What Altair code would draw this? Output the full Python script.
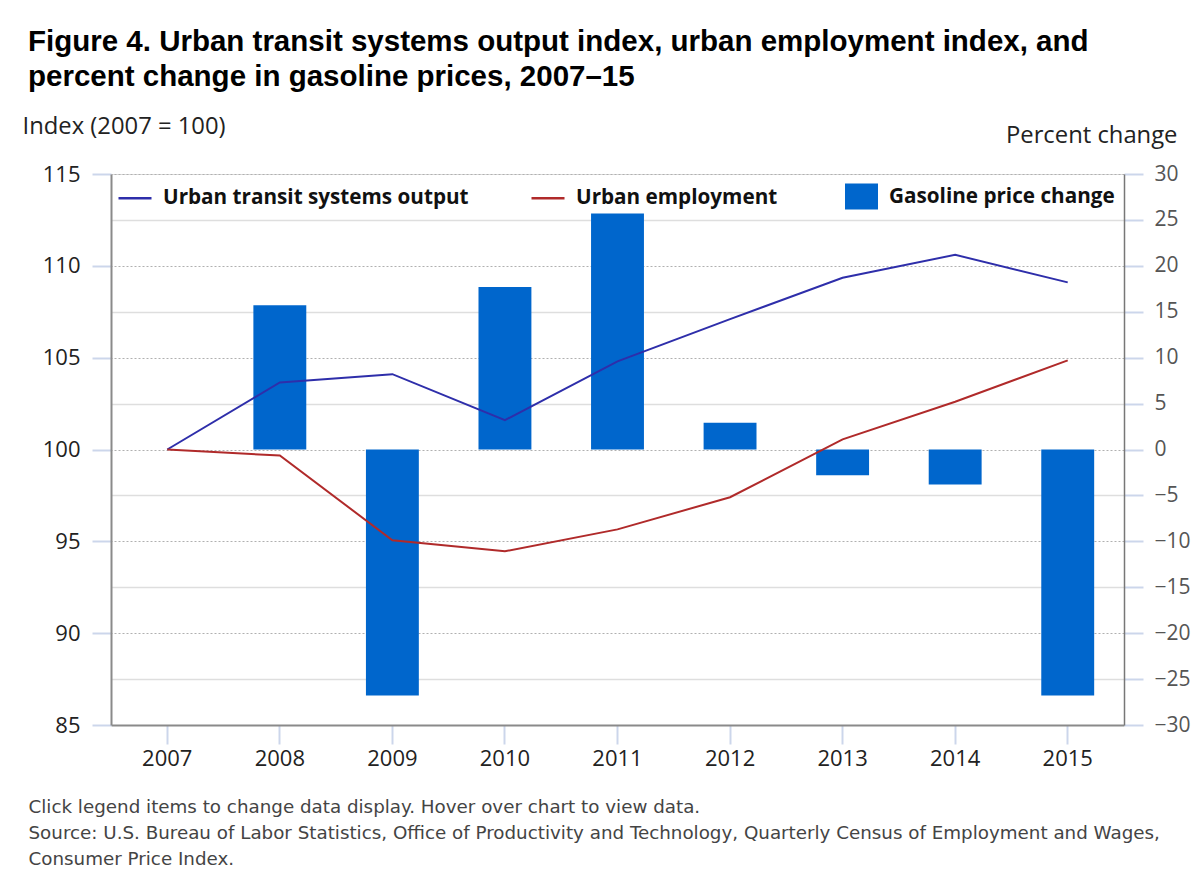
import altair as alt
import pandas as pd

years = ["2007", "2008", "2009", "2010", "2011", "2012", "2013", "2014", "2015"]
transit_index = [100.0, 103.65, 104.1, 101.6, 104.8, 107.1, 109.35, 110.6, 109.1]
employment_index = [100.0, 99.67, 95.06, 94.46, 95.65, 97.4, 100.55, 102.6, 104.85]
gas_years = ["2008", "2009", "2010", "2011", "2012", "2013", "2014", "2015"]
gas_change = [15.7, -26.8, 17.7, 25.7, 2.9, -2.8, -3.8, -26.8]

series_names = ["Urban transit systems output", "Urban employment"]
bar_name = "Gasoline price change"
line_colors = ["#2e2eaa", "#b02a2a"]
bar_color = "#0066cc"
left_ticks = [85, 90, 95, 100, 105, 110, 115]
right_ticks = [-30, -25, -20, -15, -10, -5, 0, 5, 10, 15, 20, 25, 30]

title_lines = [
    "Figure 4. Urban transit systems output index, urban employment index, and",
    "percent change in gasoline prices, 2007\u201315",
]
footer_lines = [
    "Click legend items to change data display. Hover over chart to view data.",
    "Source: U.S. Bureau of Labor Statistics, Office of Productivity and Technology, Quarterly Census of Employment and Wages,",
    "Consumer Price Index.",
]

lines_df = pd.DataFrame({
    "year": years * 2,
    "series": [series_names[0]] * len(years) + [series_names[1]] * len(years),
    "value": transit_index + employment_index,
})
bars_df = pd.DataFrame({
    "year": gas_years,
    "series": [bar_name] * len(gas_years),
    "change": gas_change,
})

FONT = "Open Sans"

x_enc = alt.X(
    "year:O",
    scale=alt.Scale(type="band", domain=years, paddingInner=0, paddingOuter=0),
    axis=alt.Axis(
        title=footer_lines,
        titleFont="DejaVu Sans", titleFontSize=18.3, titleFontWeight="normal",
        titleColor="#444444", titleAlign="left", titleAnchor="start",
        titleX=-83, titleY=82, titleBaseline="middle", titleLineHeight=26,
        titleLimit=1200,
        labelAngle=0, labelFont=FONT, labelFontSize=22, labelColor="#222222",
        labelPadding=4,
        tickSize=19, tickColor="#ccd6eb", tickWidth=2,
        domainColor="#8a8a8a", domainWidth=2, grid=False,
    ),
)

bars = alt.Chart(bars_df).mark_bar(width=alt.RelativeBandSize(0.47)).encode(
    x=x_enc,
    y=alt.Y(
        "change:Q",
        scale=alt.Scale(domain=[-30, 30], nice=False),
        axis=alt.Axis(
            orient="right", values=right_ticks,
            title="Percent change", titleFont=FONT, titleFontSize=23.8,
            titleFontWeight="normal", titleColor="#222222", titleAngle=0,
            titleAlign="right", titleBaseline="middle", titleX=53, titleY=-39,
            labelFont=FONT, labelFontSize=21, labelColor="#555555",
            labelPadding=11, labelAlign="left",
            tickSize=19, tickColor="#ccd6eb", tickWidth=2,
            domainColor="#777777", domainWidth=1.5,
            grid=True,
            gridDash={"condition": {"test": "datum.value % 10 === 0", "value": [2, 2]}, "value": []},
            gridColor={"condition": {"test": "datum.value % 10 === 0", "value": "#b0b0b0"}, "value": "#dedede"},
            gridWidth={"condition": {"test": "datum.value % 10 === 0", "value": 1}, "value": 1.5},
        ),
    ),
    fill=alt.Fill(
        "series:N",
        scale=alt.Scale(domain=[bar_name], range=[bar_color]),
        legend=alt.Legend(
            orient="none", legendX=734, legendY=6, direction="horizontal", title=None,
            symbolType="M-1,-0.79H1V0.79H-1Z", symbolSize=1089, symbolStrokeWidth=0,
            symbolOpacity=1,
            labelFont=FONT, labelFontSize=20.7, labelFontWeight="bold", labelColor="#111111",
            labelOffset=11, labelLimit=500, padding=0,
        ),
    ),
)

lines = alt.Chart(lines_df).mark_line(strokeWidth=2).encode(
    x=x_enc,
    y=alt.Y(
        "value:Q",
        scale=alt.Scale(domain=[85, 115], nice=False, zero=False),
        axis=alt.Axis(
            orient="left", values=left_ticks,
            title="Index (2007 = 100)", titleFont=FONT, titleFontSize=23.8,
            titleFontWeight="normal", titleColor="#222222", titleAngle=0,
            titleAlign="left", titleBaseline="middle", titleX=-89, titleY=-48,
            labelFont=FONT, labelFontSize=22, labelColor="#222222",
            labelPadding=12,
            tickSize=19, tickColor="#ccd6eb", tickWidth=2,
            domainColor="#8a8a8a", domainWidth=2,
            grid=False,
        ),
    ),
    color=alt.Color(
        "series:N",
        scale=alt.Scale(domain=series_names, range=line_colors),
        sort=series_names,
        legend=alt.Legend(
            orient="none", legendX=6, legendY=6, direction="horizontal", title=None,
            symbolType="stroke", symbolSize=1089, symbolStrokeWidth=2.5,
            labelFont=FONT, labelFontSize=20.7, labelFontWeight="bold", labelColor="#111111",
            labelOffset=10, labelLimit=500, columnPadding=57, padding=0,
        ),
    ),
)

chart = alt.layer(bars, lines).resolve_scale(
    y="independent", color="independent", fill="independent"
).properties(
    width=1013,
    height=551,
    autosize=alt.AutoSizeParams(type="none"),
    padding={"left": 103, "top": 166, "right": 67, "bottom": 155},
    title=alt.TitleParams(
        text=title_lines, font="Liberation Sans", fontSize=29.5, fontWeight="bold",
        color="#000000", anchor="start", frame="group", dx=-83, offset=22,
        lineHeight=35,
    ),
).configure_view(strokeWidth=0).configure(background="white")

chart.save("out.html", embed_options={"renderer": "svg", "actions": False})
